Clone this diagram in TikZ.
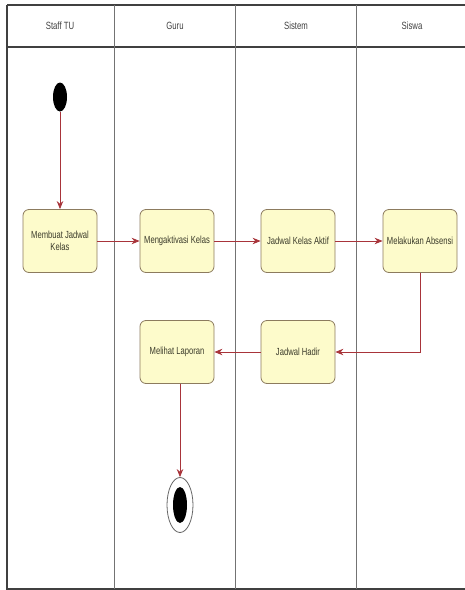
\documentclass[tikz,border=0pt]{standalone}
\usepackage{fontspec}
\setmainfont{Liberation Sans}[FakeStretch=0.74]
\usetikzlibrary{arrows.meta,shapes.geometric}
\definecolor{actfill}{HTML}{FDFBCB}
\definecolor{actdraw}{HTML}{8C7B5E}
\definecolor{acttext}{HTML}{3A3A2A}
\definecolor{flowc}{HTML}{A8343A}
\tikzset{
  lane/.style={draw=black!55, line width=0.9pt},
  headline/.style={draw=black!75, line width=1.1pt},
  act/.style={rectangle, rounded corners=6pt, draw=actdraw, line width=0.8pt, fill=actfill,
    minimum width=74pt, minimum height=63pt, inner sep=1pt, align=center,
    font=\fontsize{10.3}{12.5}\selectfont, text=acttext},
  flow/.style={draw=flowc, line width=0.8pt, -{Stealth[length=8pt,width=6.5pt]}},
  lanetitle/.style={font=\fontsize{10.5}{12}\selectfont, text=black!75}
}
\begin{document}
\begin{tikzpicture}[x=1pt,y=-1pt]
\useasboundingbox (0,0) rectangle (465,590);
% swimlanes
\draw[headline] (7,5) -- (465,5);
\draw[headline] (7,47) -- (465,47);
\draw[headline] (7,5) -- (7,589) -- (465,589);
\draw[lane] (114,5) -- (114,589);
\draw[lane] (235,5) -- (235,589);
\draw[lane] (356,5) -- (356,589);
\node[lanetitle] (t1) at (60,26) {Staff TU};
\node[lanetitle] (t2) at (175,26) {Guru};
\node[lanetitle] (t3) at (296,26) {Sistem};
\node[lanetitle] (t4) at (412,26) {Siswa};
% nodes
\node[ellipse, fill=black, minimum width=14pt, minimum height=29pt, inner sep=0pt] (start) at (60,97) {};
\node[act] (a1) at (60,241) {Membuat Jadwal\\Kelas};
\node[act] (a2) at (177,241) {Mengaktivasi Kelas};
\node[act] (a3) at (298,241) {Jadwal Kelas Aktif};
\node[act] (a4) at (420,241) {Melakukan Absensi};
\node[act] (a6) at (298,352) {Jadwal Hadir};
\node[act] (a5) at (177,352) {Melihat Laporan};
\node[ellipse, draw=black!60, line width=0.8pt, fill=white, minimum width=26pt, minimum height=55pt, inner sep=0pt] (end) at (180,505) {};
\node[ellipse, fill=black, minimum width=14pt, minimum height=36pt, inner sep=0pt] (endin) at (180,505) {};
% connectors
\draw[flow] (start) -- (a1);
\draw[flow] (a1) -- (a2);
\draw[flow] (a2) -- (a3);
\draw[flow] (a3) -- (a4);
\draw[flow] (a4.south) |- (a6.east);
\draw[flow] (a6) -- (a5);
\draw[flow] (a5.south -| end) -- (end);
\end{tikzpicture}
\end{document}
